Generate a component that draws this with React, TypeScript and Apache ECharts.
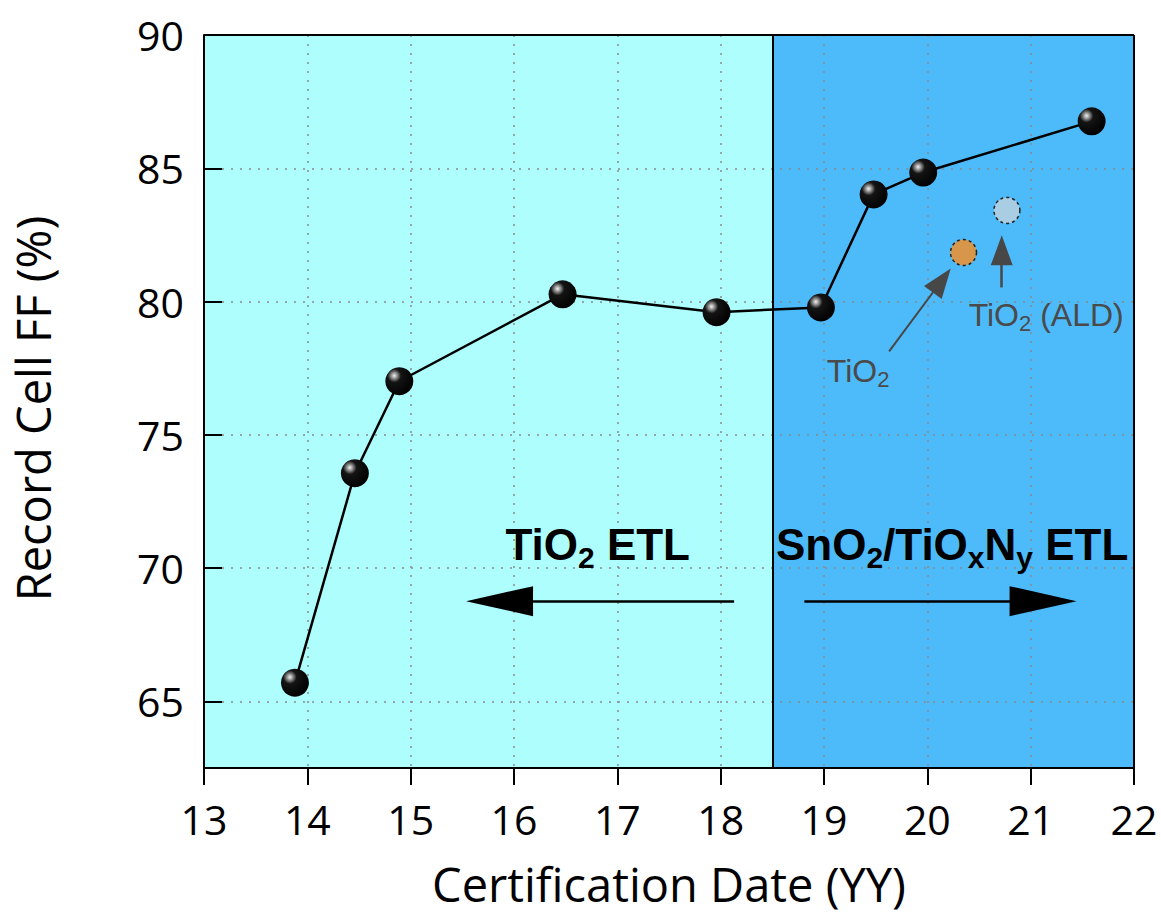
import React, { useEffect, useRef } from "react";
import * as echarts from "echarts";

// Record cell data (certification year "YY", fill factor %)
const years = [13.88, 14.46, 14.89, 16.47, 17.96, 18.97, 19.48, 19.96, 21.59];
const ff = [65.7, 73.56, 77.01, 80.27, 79.6, 79.78, 84.02, 84.84, 86.76];
const tio2Point = [20.35, 81.84];
const tio2AldPoint = [20.77, 83.42];
const boundaryYear = 18.5;
const xMin = 13;
const xMax = 22;
const yMin = 62.5;
const yMax = 90;

const AXIS_FONT = "'Open Sans', 'Noto Sans', sans-serif";
const ARIAL = "'Liberation Sans', Arial, sans-serif";

const sphere = {
  type: "radial",
  x: 0.32,
  y: 0.3,
  r: 0.75,
  colorStops: [
    { offset: 0, color: "#f0f0f0" },
    { offset: 0.12, color: "#a0a0a0" },
    { offset: 0.32, color: "#141414" },
    { offset: 1, color: "#000000" },
  ],
};

const boldRich = {
  m: { fontFamily: ARIAL, fontWeight: "bold", fontSize: 44, color: "#000", lineHeight: 56 },
  s: { fontFamily: ARIAL, fontWeight: "bold", fontSize: 30, color: "#000", lineHeight: 22, verticalAlign: "bottom" },
};
const greyRich = {
  m: { fontFamily: ARIAL, fontSize: 32, color: "#4a4a4a", lineHeight: 40 },
  s: { fontFamily: ARIAL, fontSize: 22, color: "#4a4a4a", lineHeight: 16, verticalAlign: "bottom" },
};

function textPoint(coord: number[], formatter: string, rich: any) {
  return {
    coord,
    symbol: "circle",
    symbolSize: 1,
    itemStyle: { color: "rgba(0,0,0,0)" },
    label: { show: true, position: "inside", formatter, rich },
  };
}

export default function App() {
  const ref = useRef<HTMLDivElement>(null);
  useEffect(() => {
    if (!ref.current) return;
    const chart = echarts.init(ref.current, undefined, { renderer: "svg" });
    const frame = { color: "#000", width: 2, type: "solid" };
    const option: any = {
      animation: false,
      grid: {
        left: 204,
        right: 27,
        top: 35,
        bottom: 150,
        show: false,
      },
      xAxis: {
        type: "value",
        min: xMin,
        max: xMax,
        interval: 1,
        name: "Certification Date (YY)",
        nameLocation: "middle",
        nameGap: 92,
        nameTextStyle: { fontFamily: AXIS_FONT, fontSize: 47, color: "#000" },
        axisLine: { lineStyle: { color: "#000", width: 2 } },
        axisTick: { show: true, inside: false, length: 17, lineStyle: { color: "#000", width: 2 } },
        axisLabel: { margin: 30, fontFamily: AXIS_FONT, fontSize: 41, color: "#000" },
        splitLine: { show: true, lineStyle: { color: "#8a8a8a", width: 1.5, type: [2, 7] } },
      },
      yAxis: {
        type: "value",
        min: yMin,
        max: yMax,
        splitNumber: 5,
        name: "Record Cell FF (%)",
        nameLocation: "middle",
        nameGap: 148,
        nameRotate: 90,
        nameTextStyle: { fontFamily: AXIS_FONT, fontSize: 47, color: "#000", padding: [0, 14, 0, 0] },
        axisLine: { lineStyle: { color: "#000", width: 2 } },
        axisTick: { show: true, inside: true, length: 18, lineStyle: { color: "#000", width: 2 } },
        axisLabel: {
          margin: 20,
          fontFamily: AXIS_FONT,
          fontSize: 41,
          color: "#000",
          formatter: (v: number) => (v % 5 === 0 ? String(v) : ""),
        },
        splitLine: { show: true, lineStyle: { color: "#8a8a8a", width: 1.5, type: [2, 7] } },
      },
      series: [
        {
          type: "line",
          z: 4,
          data: years.map((y, i) => [y, ff[i]]),
          symbol: "circle",
          symbolSize: 28,
          itemStyle: { color: sphere, borderWidth: 0 },
          lineStyle: { color: "#000", width: 2.5 },
          markArea: {
            z: -1,
            silent: true,
            data: [
              [{ xAxis: xMin, itemStyle: { color: "#aefefe" } }, { xAxis: boundaryYear }],
              [{ xAxis: boundaryYear, itemStyle: { color: "#4dbbfa" } }, { xAxis: xMax }],
            ],
          },
          markLine: {
            silent: true,
            symbol: "none",
            label: { show: false },
            data: [
              { xAxis: boundaryYear, lineStyle: frame },
              { xAxis: xMax, lineStyle: frame },
              { yAxis: yMax, lineStyle: frame },
            ],
          },
        },
        {
          type: "scatter",
          z: 4,
          symbolSize: 26,
          data: [
            { value: tio2Point, itemStyle: { color: "#d8964a" } },
            { value: tio2AldPoint, itemStyle: { color: "#a9cde2" } },
          ],
          itemStyle: { opacity: 1, borderColor: "#222", borderWidth: 1.5, borderType: [3, 3] },
        },
        {
          type: "scatter",
          z: 3,
          data: [],
          markLine: {
            silent: true,
            label: { show: false },
            data: [
              [
                { coord: [18.13, 68.76], symbol: "none" },
                { coord: [15.86, 68.76], symbol: "triangle", symbolSize: [30, 67] },
              ],
              [
                { coord: [18.81, 68.76], symbol: "none" },
                { coord: [21.12, 68.76], symbol: "triangle", symbolSize: [30, 67] },
              ],
              [
                { coord: [19.63, 78.13], symbol: "none", lineStyle: { color: "#474747", width: 2 } },
                { coord: [20.14, 80.79], symbol: "triangle", symbolSize: [22, 30], itemStyle: { color: "#474747" } },
              ],
              [
                { coord: [20.72, 80.53], symbol: "none", lineStyle: { color: "#474747", width: 2.5 } },
                { coord: [20.72, 81.92], symbol: "triangle", symbolSize: [22, 30], itemStyle: { color: "#474747" } },
              ],
            ],
            lineStyle: { color: "#000", width: 2.5, type: "solid" },
            itemStyle: { color: "#000" },
          },
          markPoint: {
            silent: true,
            data: [
              textPoint([16.81, 70.9], "{m|TiO}{s|2}{m| ETL}", boldRich),
              textPoint([20.24, 70.9], "{m|SnO}{s|2}{m|/TiO}{s|x}{m|N}{s|y}{m| ETL}", boldRich),
              textPoint([19.33, 77.4], "{m|TiO}{s|2}", greyRich),
              textPoint([21.15, 79.5], "{m|TiO}{s|2}{m| (ALD)}", greyRich),
            ],
          },
        },
      ],
    };
    chart.setOption(option);
    return () => chart.dispose();
  }, []);
  return <div ref={ref} style={{ width: 1161, height: 918, position: "absolute", left: 0, top: 0 }} />;
}
